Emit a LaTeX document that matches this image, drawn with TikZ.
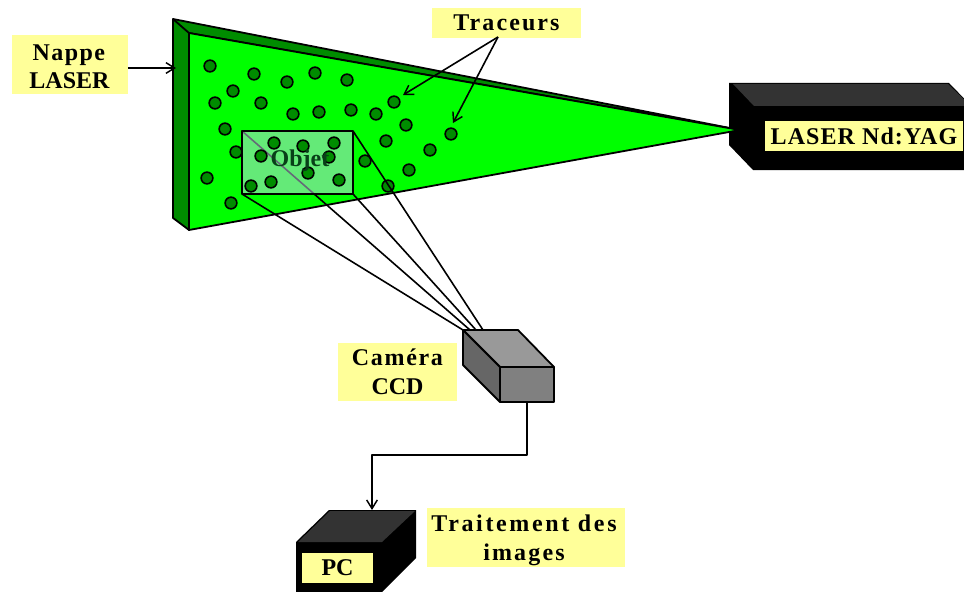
\documentclass[tikz,border=0pt]{standalone}
\usepackage{fontspec}
\setmainfont{Liberation Serif}
\usetikzlibrary{arrows.meta}
\definecolor{lab}{HTML}{FFFF99}
\definecolor{dgreen}{HTML}{008C00}
\definecolor{lgreen}{HTML}{00FF00}
\definecolor{objt}{HTML}{084018}
\newcommand{\lsp}[2]{{\addfontfeatures{LetterSpace=#1}#2}}
\tikzset{
 x=0.75pt,y=-0.75pt,
 edge/.style={draw=black,line width=1.35pt,line join=round},
 link/.style={draw=black,line width=1.2pt,line join=round},
 arr/.style={link,-{Straight Barb[length=6.5pt,width=8pt,line width=1.1pt]}},
 lbl/.style={fill=lab,inner sep=0pt,align=center,anchor=center,font=\bfseries\fontsize{18}{21.5}\selectfont},
 dot/.style={circle,draw=black,fill=dgreen,line width=1.2pt,minimum size=8.8pt,inner sep=0pt},
}
\begin{document}
\begin{tikzpicture}
\clip (0,0) rectangle (964,592);
\fill[white] (0,0) rectangle (964,592);
% laser
\fill[black] (729,83)--(949,83)--(985,120)--(985,170)--(753,170)--(729,145)--cycle;
\fill[fill={rgb,255:red,51;green,51;blue,51}] (733,84)--(948,84)--(971,106)--(754,106)--cycle;
\node[lbl,minimum width=148.5pt,minimum height=22.5pt] (laser) at (864,136) {\lsp{4.5}{LASER Nd:YAG}};
% nappe
\coordinate (tlo) at (173,19); \coordinate (tli) at (189,33);
\coordinate (blo) at (173,218); \coordinate (bli) at (189,230);
\coordinate (apex) at (740,130);
\path[edge,fill=dgreen] (tlo)--(apex)--(tli)--(bli)--(blo)--cycle;
\path[edge,fill=lgreen] (tli)--(apex)--(bli)--cycle;
\draw[edge] (tlo)--(tli);
% tracers outside the object
\foreach \x/\y in {210/66,254/74,287/82,315/73,347/80,233/91,215/103,261/103,293/114,319/112,351/110,376/114,394/102,406/125,386/141,451/134,430/150,409/170,365/161,388/186,225/129,236/152,207/178,231/203}
  \node[dot] at (\x,\y) {};
% camera
\coordinate (c1) at (463,330); \coordinate (c2) at (518,330); \coordinate (c3) at (554,367);
\coordinate (c4) at (500,367); \coordinate (c5) at (463,365); \coordinate (c6) at (500,402); \coordinate (c7) at (554,402);
% object + lines of sight
\coordinate (oTL) at (242,131); \coordinate (oTR) at (353,131); \coordinate (oBL) at (242,194); \coordinate (oBR) at (353,194);
\coordinate (v1) at (463,330); \coordinate (v2) at (470,330); \coordinate (v3) at (476,330); \coordinate (v4) at (483,330);
\draw[link] (oBL)--(v1);
\draw[link] (oTL)--(v2);
\draw[link] (oBR)--(v3);
\draw[link] (oTR)--(v4);
\path[fill={rgb,255:red,200;green,215;blue,240},fill opacity=.5] (oTL) rectangle (oBR);
\draw[edge] (oTL) rectangle (oBR);
% tracers inside the object
\foreach \x/\y in {251/186,271/182,261/156,274/143,303/146,334/143,329/157,308/173,339/180}
  \node[dot] at (\x,\y) {};
\node[font=\bfseries\fontsize{18}{20}\selectfont,text=objt,inner sep=0pt] (obj) at (300,161) {Objet};
\path[edge,fill={rgb,255:red,153;green,153;blue,153}] (c1)--(c2)--(c3)--(c4)--cycle;
\path[edge,fill={rgb,255:red,102;green,102;blue,102}] (c1)--(c4)--(c6)--(c5)--cycle;
\path[edge,fill={rgb,255:red,128;green,128;blue,128}] (c4)--(c3)--(c7)--(c6)--cycle;
% PC
\fill[black] (296,542)--(329,510)--(416,510)--(416,558)--(382,592)--(296,592)--cycle;
\fill[fill={rgb,255:red,51;green,51;blue,51}] (298,542)--(330,511)--(415,511)--(382,542)--cycle;
\node[lbl,minimum width=53.25pt,minimum height=22.5pt] (pc) at (337.5,568) {PC};
% labels
\node[lbl,minimum width=87pt,minimum height=44.25pt] (nappe) at (69.5,64.5) {\rule{0pt}{15.3pt}\hspace{-1pt}\lsp{6}{Nappe}\\LASER};
\node[lbl,minimum width=111.75pt,minimum height=22.5pt] (traceurs) at (506.5,23) {\lsp{8.7}{Traceurs}};
\node[lbl,minimum width=89.25pt,minimum height=43.5pt] (cam) at (397.5,372) {\lsp{7}{Caméra}\\CCD};
\node[lbl,minimum width=148.5pt,minimum height=44.25pt] (trait) at (526,537.5) {\rule{0pt}{17pt}\hspace{-3pt}\lsp{11}{Traitement des}\\\hspace{-3pt}\lsp{9}{images}};
% arrows
\coordinate (t1) at (498,37);
\draw[arr] (nappe.east |- 0,68) -- (176,68);
\draw[arr] (t1)--(403,95);
\draw[arr] (t1)--(453,123);
\coordinate (pcin) at (372,510);
\draw[arr] (527,402) |- (372,455) -- (pcin);
\end{tikzpicture}
\end{document}
